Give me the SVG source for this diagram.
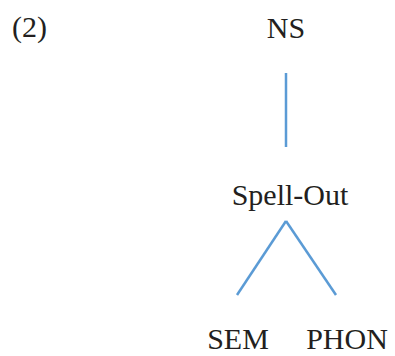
<svg xmlns="http://www.w3.org/2000/svg" width="395" height="356" viewBox="0 0 395 356">
<style>
text{font-family:"Liberation Serif","Times New Roman",serif;font-size:30px;fill:#231f20}
.c line{stroke:#5b9bd5;stroke-width:2.5;fill:none}
</style>
<rect width="395" height="356" fill="#fff"/>
<text id="label" x="12" y="37">(2)</text>
<g id="ns"><text x="286" y="38" text-anchor="middle">NS</text></g>
<g id="spellout"><text x="290" y="205" text-anchor="middle">Spell-Out</text></g>
<g id="sem"><text x="238" y="349" text-anchor="middle">SEM</text></g>
<g id="phon"><text x="347" y="349" text-anchor="middle">PHON</text></g>
<g class="c" id="connectors">
<line x1="286" y1="73" x2="286" y2="147"/>
<line x1="286" y1="221" x2="237" y2="295"/>
<line x1="286" y1="221" x2="336" y2="295"/>
</g>
</svg>
